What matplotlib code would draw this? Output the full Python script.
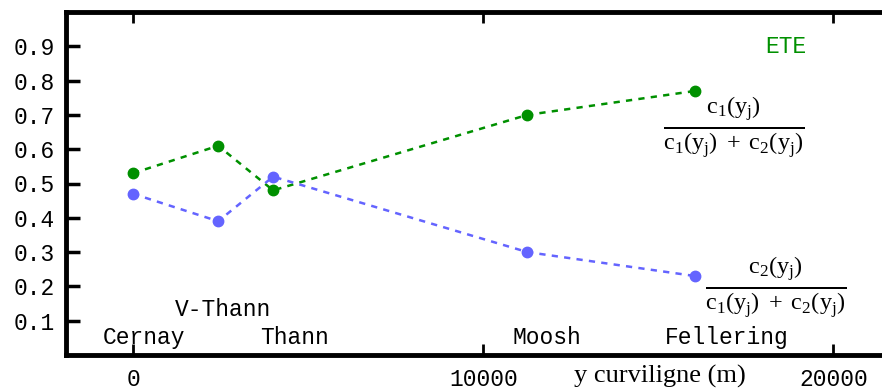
import matplotlib
matplotlib.use("Agg")
import matplotlib.pyplot as plt

plt.rcParams['mathtext.fontset'] = 'custom'
plt.rcParams['mathtext.rm'] = 'Liberation Serif'
plt.rcParams['mathtext.it'] = 'Liberation Serif'
plt.rcParams['mathtext.bf'] = 'Liberation Serif:bold'

x_pos = [0, 2430, 4000, 11260, 16060]
c1_frac = [0.53, 0.61, 0.48, 0.70, 0.77]
c2_frac = [0.47, 0.39, 0.52, 0.30, 0.23]
towns = ["Cernay", "V-Thann", "Thann", "Moosh", "Fellering"]
town_x = [314, 2570, 4600, 11830, 16940]
town_y = [0.052, 0.132, 0.052, 0.052, 0.052]
yticks = [0.1, 0.2, 0.3, 0.4, 0.5, 0.6, 0.7, 0.8, 0.9]
xticks = [0, 10000, 20000]

green = '#009000'
blue = '#6464ff'
mono = 'Liberation Mono'
fs = 16.5

fig = plt.figure(figsize=(8.82, 3.89), dpi=100)
ax = fig.add_axes([66/882, 1-355/389, (900-66)/882, (355-12)/389])
ax.set_xlim(-1915, 21900)
ax.set_ylim(0, 1.0)

ax.plot(x_pos, c1_frac, linestyle='--', color=green, lw=1.8, marker='o',
        markersize=7.5, dashes=(2.5, 2.5))
ax.plot(x_pos, c2_frac, linestyle='--', color=blue, lw=1.8, marker='o',
        markersize=7.5, dashes=(2.5, 2.5))

for s in ax.spines.values():
    s.set_linewidth(3.5)

ax.set_yticks(yticks)
ax.set_yticklabels(["%.1f" % v for v in yticks], fontfamily=mono, fontsize=fs)
ax.set_xticks(xticks)
ax.set_xticklabels([str(v) for v in xticks], fontfamily=mono, fontsize=fs)
ax.tick_params(axis='y', direction='in', length=10, width=2.5, left=True, right=True, pad=8)
ax.tick_params(axis='x', direction='in', length=8, width=2, top=True, bottom=True, pad=9)

for t, xx, yy in zip(towns, town_x, town_y):
    ax.text(xx, yy, t, fontfamily=mono, fontsize=fs, ha='center', va='center')

ax.text(18630, 0.9, "ETE", fontfamily=mono, fontsize=fs, color=green,
        ha='center', va='center')
ax.text(17170, 0.665, r"$\frac{\mathrm{c_1(y_j)}}{\mathrm{c_1(y_j)\;+\;c_2(y_j)}}$",
        fontsize=25, ha='center', va='center')
ax.text(18370, 0.198, r"$\frac{\mathrm{c_2(y_j)}}{\mathrm{c_1(y_j)\;+\;c_2(y_j)}}$",
        fontsize=25, ha='center', va='center')

fig.text(660/882, 1-376/389, "y curviligne (m)", fontfamily='Liberation Serif',
         fontsize=19, ha='center', va='center')

fig.savefig("out.png", dpi=100)
